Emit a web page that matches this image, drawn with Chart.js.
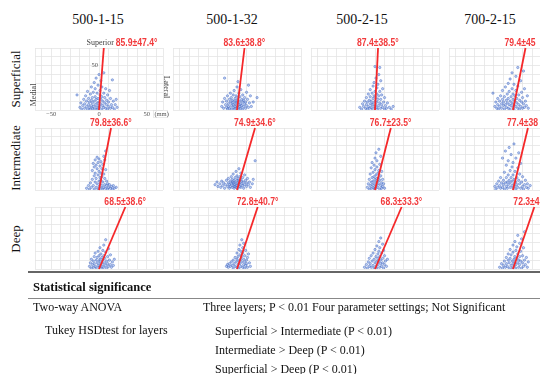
<!DOCTYPE html>
<html><head><meta charset="utf-8">
<script src="https://cdn.jsdelivr.net/npm/chart.js@4.4.1/dist/chart.umd.min.js"></script>
<style>
html,body{margin:0;padding:0;background:#fff;}
#wrap{position:relative;width:540px;height:374px;overflow:hidden;font-family:"Liberation Serif","Times New Roman",serif;color:#111;}
canvas{position:absolute;}
.t{position:absolute;white-space:nowrap;line-height:1;}
.title{font-size:14px;transform:translate(-50%,-50%);}
.row{font-size:13px;transform:translate(-50%,-50%) rotate(-90deg);}
.hl{position:absolute;left:28px;width:520px;}
.tb{font-size:12px;transform:translateY(-50%);}
</style></head><body><div id="wrap"></div>
<script>
// ---------- data ----------
const settings = ['500-1-15','500-1-32','500-2-15','700-2-15'];
const layers = ['Superficial','Intermediate','Deep'];
const xTicks = [-67,-60,-50,-40,-30,-20,-10,0,10,20,30,40,50,60,67];
const yTicks = [0,10,20,30,40,50,60,70];
const xAxisLabels = [-50,0,50];
const yAxisLabels = [50];

// mean fibre angle (deg) and SD text, per layer, per setting
const meanSup = [85.9, 83.6, 87.4, 79.4];
const sdSup   = ['47.4°','38.8°','38.5°','45'];
const meanInt = [79.8, 74.9, 76.7, 77.4];
const sdInt   = ['36.6°','34.6°','23.5°','38'];
const meanDeep = [68.5, 72.8, 68.3, 72.3];
const sdDeep   = ['38.6°','40.7°','33.3°','4'];

// scatter points [x (mm), y (mm)]
const sup_500_1_15 = [[-23,17],[-20,3],[-19,8],[-18,1],[-17,5],[-16,12],[-15,2],[-15,7],[-14,16],[-13,4],[-13,10],[-12,1],[-12,21],[-11,6],[-11,13],[-10,3],[-10,9],[-9,18],[-9,1],[-8,5],[-8,11],[-8,26],[-7,2],[-7,14],[-7,8],[-6,20],[-6,4],[-5,10],[-5,1],[-5,31],[-4,6],[-4,15],[-4,24],[-3,3],[-3,12],[-3,36],[-2,8],[-2,19],[-2,1],[-1,5],[-1,28],[-1,13],[0,2],[0,9],[0,40],[1,17],[1,4],[1,22],[2,7],[2,12],[2,33],[3,1],[3,15],[3,26],[4,5],[4,10],[5,3],[5,19],[5,42],[6,8],[6,14],[7,2],[7,24],[8,6],[8,11],[9,1],[9,17],[10,4],[10,9],[11,22],[12,2],[12,13],[13,6],[14,34],[14,3],[15,10],[16,1],[17,6],[18,12],[19,3]];
const sup_500_1_32 = [[-16,4],[-15,9],[-14,2],[-13,13],[-13,36],[-12,6],[-11,3],[-11,10],[-10,1],[-10,16],[-9,7],[-9,4],[-8,12],[-8,2],[-7,9],[-7,19],[-6,5],[-6,14],[-6,1],[-5,8],[-5,11],[-4,3],[-4,17],[-4,6],[-3,10],[-3,22],[-3,1],[-2,7],[-2,13],[-2,4],[-1,9],[-1,16],[-1,2],[0,5],[0,11],[0,26],[1,3],[1,8],[1,14],[1,32],[2,1],[2,6],[2,19],[3,10],[3,4],[3,15],[4,7],[4,2],[4,23],[5,12],[5,5],[6,9],[6,1],[6,17],[7,4],[7,11],[8,7],[8,14],[9,2],[9,9],[10,5],[10,20],[11,12],[12,28],[12,3],[13,8],[14,16],[15,4],[17,9],[21,14]];
const sup_500_2_15 = [[-16,3],[-14,1],[-13,7],[-12,4],[-11,10],[-10,2],[-9,6],[-9,14],[-8,1],[-8,9],[-7,4],[-7,18],[-6,11],[-6,2],[-5,7],[-5,15],[-5,23],[-4,3],[-4,10],[-3,6],[-3,19],[-3,1],[-2,13],[-2,27],[-2,8],[-1,4],[-1,16],[-1,31],[0,2],[0,10],[0,21],[0,49],[1,6],[1,14],[1,36],[2,3],[2,18],[2,25],[2,9],[3,12],[3,1],[3,29],[4,5],[4,16],[4,40],[5,8],[5,21],[5,48],[6,2],[6,12],[6,33],[7,6],[7,17],[8,3],[8,24],[9,9],[10,1],[10,14],[11,5],[12,2],[13,8],[15,3],[17,1],[19,4]];
const sup_700_2_15 = [[-21,19],[-19,4],[-18,9],[-17,2],[-16,13],[-16,6],[-15,1],[-14,10],[-14,4],[-13,16],[-12,7],[-12,2],[-11,12],[-11,22],[-10,5],[-10,9],[-9,1],[-9,15],[-8,6],[-8,26],[-7,3],[-7,11],[-6,18],[-6,8],[-5,2],[-5,13],[-5,30],[-4,6],[-4,21],[-3,10],[-3,1],[-3,35],[-2,15],[-2,5],[-1,8],[-1,24],[-1,42],[0,3],[0,12],[0,18],[1,6],[1,29],[1,1],[2,10],[2,16],[3,4],[3,22],[3,38],[4,8],[4,13],[5,2],[5,27],[5,48],[6,6],[6,17],[7,11],[7,1],[8,4],[8,33],[9,9],[9,20],[10,2],[10,14],[11,7],[11,44],[12,3],[12,24],[13,10],[14,5],[15,16],[16,2]];

const int_500_1_15 = [[-13,2],[-11,5],[-10,1],[-9,8],[-8,3],[-7,12],[-7,22],[-6,5],[-6,30],[-5,16],[-5,1],[-5,26],[-4,9],[-4,34],[-4,19],[-3,3],[-3,13],[-3,28],[-2,7],[-2,24],[-2,37],[-1,1],[-1,17],[-1,31],[0,10],[0,21],[0,4],[0,35],[1,14],[1,27],[1,7],[2,2],[2,19],[2,32],[2,11],[3,5],[3,24],[3,15],[4,1],[4,9],[4,29],[5,3],[5,18],[5,38],[6,6],[6,13],[7,2],[7,23],[7,44],[8,5],[8,10],[9,1],[9,7],[10,3],[11,6],[12,2],[13,4],[14,1],[15,5],[16,2],[18,3],[6,34]];
const int_500_1_32 = [[-23,6],[-21,9],[-20,4],[-18,7],[-17,3],[-16,10],[-15,5],[-14,8],[-13,2],[-12,6],[-11,11],[-10,4],[-9,8],[-9,13],[-8,2],[-8,6],[-7,10],[-7,4],[-6,15],[-6,7],[-5,3],[-5,9],[-5,12],[-4,5],[-4,18],[-4,8],[-3,2],[-3,11],[-3,6],[-2,14],[-2,4],[-2,9],[-1,7],[-1,21],[-1,3],[0,11],[0,5],[0,16],[1,8],[1,2],[1,13],[2,6],[2,10],[2,24],[3,4],[3,15],[3,8],[4,12],[4,3],[4,19],[5,7],[5,10],[6,5],[6,14],[7,9],[7,2],[8,6],[8,17],[9,11],[10,4],[10,8],[11,13],[12,6],[13,9],[14,3],[16,7],[17,12],[19,33]];
const int_500_2_15 = [[-8,3],[-7,7],[-6,1],[-6,12],[-5,5],[-5,18],[-4,9],[-4,2],[-4,25],[-3,14],[-3,6],[-3,31],[-2,3],[-2,10],[-2,20],[-1,7],[-1,15],[-1,28],[-1,1],[0,12],[0,4],[0,23],[0,36],[1,9],[1,17],[1,2],[1,42],[2,6],[2,13],[2,26],[2,33],[3,3],[3,19],[3,10],[4,7],[4,22],[4,46],[4,14],[5,1],[5,11],[5,29],[6,5],[6,16],[6,38],[7,8],[7,2],[7,21],[8,12],[8,4],[9,7],[10,2]];
const int_700_2_15 = [[-19,4],[-18,1],[-17,7],[-16,3],[-15,10],[-14,5],[-13,2],[-13,14],[-12,8],[-11,3],[-11,36],[-10,11],[-10,6],[-9,1],[-9,20],[-8,8],[-8,44],[-7,4],[-7,14],[-7,28],[-6,9],[-6,2],[-5,17],[-5,33],[-5,6],[-4,11],[-4,48],[-3,3],[-3,22],[-3,8],[-2,14],[-2,40],[-1,5],[-1,26],[-1,10],[0,2],[0,17],[0,31],[1,7],[1,12],[1,52],[2,4],[2,21],[3,9],[3,36],[3,1],[4,14],[4,6],[5,25],[5,3],[6,11],[6,42],[7,7],[7,18],[8,2],[8,30],[9,9],[10,4],[10,15],[11,1],[12,6],[13,11],[14,3],[15,7],[16,2],[18,5]];

const deep_500_1_15 = [[-10,3],[-9,7],[-8,1],[-8,11],[-7,5],[-6,9],[-6,2],[-5,14],[-5,6],[-4,3],[-4,18],[-3,10],[-3,1],[-2,7],[-2,13],[-1,4],[-1,20],[0,9],[0,2],[0,15],[1,6],[1,24],[1,11],[2,3],[2,17],[3,8],[3,13],[3,1],[4,5],[4,21],[4,10],[5,15],[5,2],[5,27],[6,7],[6,12],[7,4],[7,19],[7,33],[8,9],[8,1],[9,14],[9,6],[10,3],[10,23],[11,10],[12,5],[12,16],[13,2],[14,8],[15,4],[16,11]];
const deep_500_1_32 = [[-11,3],[-10,5],[-9,2],[-8,6],[-7,3],[-6,8],[-5,4],[-4,1],[-4,10],[-3,6],[-2,3],[-2,13],[-1,8],[0,2],[0,11],[0,18],[1,5],[1,14],[2,9],[2,22],[2,1],[3,6],[3,16],[3,27],[4,3],[4,11],[4,20],[5,8],[5,14],[5,33],[6,2],[6,18],[6,24],[7,5],[7,11],[7,29],[8,8],[8,15],[8,1],[9,4],[9,21],[10,10],[10,6],[11,13],[11,2],[12,17],[13,7],[14,3]];
const deep_500_2_15 = [[-11,2],[-9,5],[-8,1],[-7,8],[-6,3],[-6,12],[-5,6],[-4,2],[-4,15],[-3,9],[-2,4],[-2,18],[-1,11],[-1,1],[0,7],[0,22],[1,3],[1,14],[2,9],[2,26],[2,1],[3,5],[3,17],[3,12],[4,20],[4,8],[4,31],[5,2],[5,14],[5,24],[6,6],[6,10],[6,35],[7,3],[7,18],[8,12],[8,7],[8,28],[9,1],[9,21],[10,5],[10,15],[11,9],[12,3],[13,11]];
const deep_700_2_15 = [[-14,2],[-12,6],[-11,1],[-10,4],[-9,9],[-8,2],[-7,6],[-7,13],[-6,3],[-5,10],[-5,17],[-4,1],[-4,7],[-3,12],[-3,22],[-2,4],[-2,16],[-1,9],[-1,1],[0,6],[0,19],[0,27],[1,11],[1,3],[2,14],[2,8],[2,31],[3,1],[3,21],[3,5],[4,12],[4,25],[5,7],[5,17],[5,38],[6,2],[6,10],[7,14],[7,29],[7,5],[8,20],[8,9],[9,1],[9,34],[10,7],[10,15],[11,3],[11,24],[12,10],[12,42],[13,5],[14,13],[15,2],[16,8]];

// table text
const anovaLabel = 'Two-way ANOVA';
const anovaResult = 'Three layers; P < 0.01 Four parameter settings; Not Significant';
const tukeyLabel = 'Tukey HSDtest for layers';
const tukeyResults = ['Superficial > Intermediate (P < 0.01)','Intermediate > Deep (P < 0.01)','Superficial > Deep (P < 0.01)'];

// ---------- layout ----------
const wrap = document.getElementById('wrap');
const colLeft = [35, 173, 311, 449];
const rowTop = [48, 128, 207];
const PW = 128, PH = 62, PADL = 24, PADR = 24, PADT = 18, PADB = 14;
const LINE_TOP = 70;
const titleX = [98, 232, 362, 490];
const rowLabelY = [79, 158, 239];

const pts = [
  [sup_500_1_15, sup_500_1_32, sup_500_2_15, sup_700_2_15],
  [int_500_1_15, int_500_1_32, int_500_2_15, int_700_2_15],
  [deep_500_1_15, deep_500_1_32, deep_500_2_15, deep_700_2_15]
];
const means = [meanSup, meanInt, meanDeep];
const sds = [sdSup, sdInt, sdDeep];

function addText(cls, text, x, y, extra) {
  const d = document.createElement('div');
  d.className = 't ' + cls;
  d.textContent = text;
  d.style.left = x + 'px'; d.style.top = y + 'px';
  if (extra) Object.assign(d.style, extra);
  wrap.appendChild(d);
  return d;
}
settings.forEach((s, i) => addText('title', s, titleX[i], 20));
layers.forEach((l, i) => addText('row', l, 15, rowLabelY[i]));

const annot = {
  id: 'annot',
  afterDatasetsDraw(chart, args, o) {
    const ctx = chart.ctx, xs = chart.scales.x, ys = chart.scales.y;
    const px = xs.getPixelForValue(o.xTop), py = ys.getPixelForValue(o.yTop);
    ctx.save();
    ctx.font = 'bold 10.5px "Liberation Sans",Arial,sans-serif';
    ctx.fillStyle = '#f23a3c';
    ctx.textAlign = 'left'; ctx.textBaseline = 'middle';
    ctx.save();
    ctx.translate(px + o.dx, py - 5);
    ctx.scale(0.82, 1);
    ctx.fillText(o.text, 0, 0);
    ctx.restore();
    if (o.axes) {
      ctx.fillStyle = '#555';
      ctx.font = '6.5px "Liberation Serif",serif';
      ctx.textAlign = 'center';
      const by = ys.getPixelForValue(0);
      xAxisLabels.forEach(v => ctx.fillText(String(v).replace('-', '\u2212'), xs.getPixelForValue(v), by + 4));
      yAxisLabels.forEach(v => { ctx.textAlign = 'right'; ctx.fillText(String(v), xs.getPixelForValue(0) - 1, ys.getPixelForValue(v)); });
      // (mm) unit
      ctx.textAlign = 'left';
      const ux = xs.getPixelForValue(58), uy = by + 4;
      ctx.strokeStyle = '#ddd'; ctx.lineWidth = 0.6;
      ctx.strokeRect(ux - 1, uy - 3.5, 14, 7);
      ctx.fillText('(mm)', ux, uy);
      ctx.font = '8px "Liberation Serif",serif';
      ctx.fillStyle = '#444';
      ctx.textAlign = 'right';
      ctx.fillText('Superior', xs.getPixelForValue(0) + 15, py - 5);
      // Medial / Lateral rotated
      ctx.save();
      ctx.translate(xs.left - 1, ys.getPixelForValue(17));
      ctx.rotate(-Math.PI / 2);
      ctx.textAlign = 'center';
      ctx.fillText('Medial', 0, 0);
      ctx.restore();
      ctx.save();
      ctx.translate(xs.right + 3, ys.getPixelForValue(26));
      ctx.rotate(Math.PI / 2);
      ctx.textAlign = 'center';
      ctx.fillText('Lateral', 0, 0);
      ctx.restore();
    }
    ctx.restore();
  }
};

for (let r = 0; r < 3; r++) {
  for (let c = 0; c < 4; c++) {
    const cv = document.createElement('canvas');
    cv.width = PW + PADL + PADR; cv.height = PH + PADT + PADB;
    cv.style.left = (colLeft[c] - PADL) + 'px';
    cv.style.top = (rowTop[r] - PADT) + 'px';
    cv.style.width = cv.width + 'px'; cv.style.height = cv.height + 'px';
    wrap.appendChild(cv);
    const ang = means[r][c] * Math.PI / 180;
    const xTop = LINE_TOP / Math.tan(ang);
    new Chart(cv, {
      type: 'scatter',
      data: {
        datasets: [
          { data: pts[r][c].map(p => ({ x: p[0], y: p[1] })), pointRadius: 1.15,
            pointBackgroundColor: 'rgba(95,135,215,0.4)', pointBorderColor: 'rgba(60,100,195,0.8)',
            pointBorderWidth: 0.6, order: 2 },
          { type: 'line', data: [{ x: 0, y: 0 }, { x: xTop, y: LINE_TOP }], borderColor: '#f5282a',
            borderWidth: 1.8, pointRadius: 0, clip: false, order: 1 }
        ]
      },
      options: {
        responsive: false, animation: false, events: [],
        layout: { padding: { left: PADL, right: PADR, top: PADT, bottom: PADB } },
        plugins: {
          legend: { display: false }, tooltip: { enabled: false },
          annot: { xTop: xTop, yTop: LINE_TOP, text: means[r][c].toFixed(1) + '±' + sds[r][c],
                   dx: (r === 0 && c === 0) ? 12 : -21, axes: (r === 0 && c === 0) }
        },
        scales: {
          x: { type: 'linear', min: -67, max: 67,
               afterBuildTicks: s => { s.ticks = xTicks.map(v => ({ value: v })); },
               ticks: { display: false }, grid: { color: '#e4e4e4', lineWidth: 0.8, drawTicks: false },
               border: { display: false }, afterFit: s => { s.height = 0; } },
          y: { type: 'linear', min: 0, max: 70,
               afterBuildTicks: s => { s.ticks = yTicks.map(v => ({ value: v })); },
               ticks: { display: false }, grid: { color: '#e4e4e4', lineWidth: 0.8, drawTicks: false },
               border: { display: false }, afterFit: s => { s.width = 0; } }
        }
      },
      plugins: [annot]
    });
  }
}

// ---------- table ----------
function hline(y, h, color) {
  const d = document.createElement('div');
  d.className = 'hl';
  d.style.top = y + 'px'; d.style.height = h + 'px'; d.style.background = color;
  wrap.appendChild(d);
}
hline(271, 2, '#666');
hline(297.5, 1.5, '#888');
addText('tb', 'Statistical significance', 33, 287, { fontWeight: 'bold', fontSize: '12.5px' });
addText('tb', anovaLabel, 33, 307);
addText('tb', anovaResult, 203, 307);
addText('tb', tukeyLabel, 45, 330);
tukeyResults.forEach((t, i) => addText('tb', t, 215, 331 + i * 19));
</script></body></html>
